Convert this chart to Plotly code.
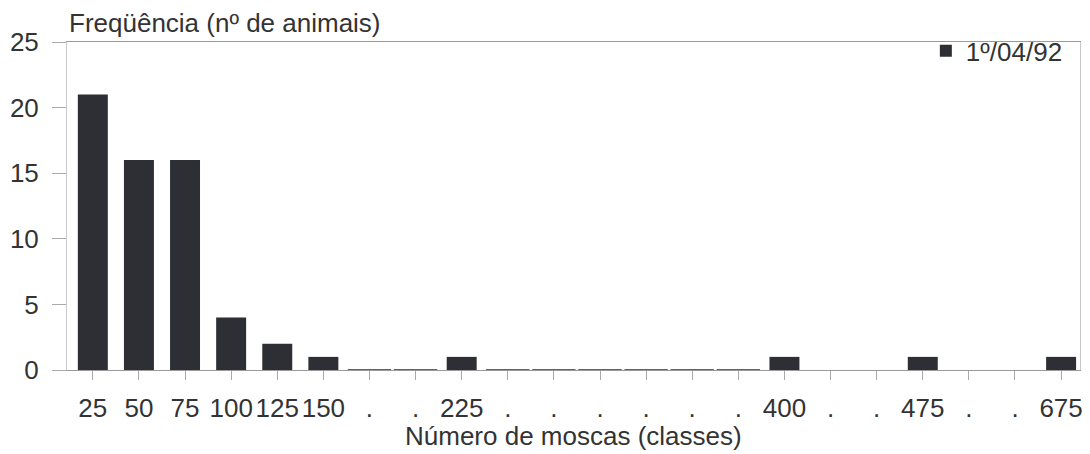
import plotly.graph_objects as go

# Fly-count classes (x) and number of animals in each class (y)
class_labels = ["25", "50", "75", "100", "125", "150", ".", ".", "225",
                ".", ".", ".", ".", ".", ".", "400", ".", ".", "475",
                ".", ".", "675"]
animal_counts = [21, 16, 16, 4, 2, 1, 0, 0, 1,
                 0, 0, 0, 0, 0, 0, 1, None, None, 1,
                 None, None, 1]
series_name = "1º/04/92"
y_ticks = [0, 5, 10, 15, 20, 25]

positions = list(range(len(class_labels)))
bar_color = "#2e2f35"
text_color = "#333333"
font_family = "Liberation Sans, Arial, sans-serif"
font_size = 26

fig = go.Figure()

fig.add_trace(go.Bar(
    x=positions,
    y=animal_counts,
    name=series_name,
    marker=dict(color=bar_color, line=dict(width=0)),
    showlegend=True,
))

# Empty classes are drawn as a flat stroke on the baseline
zero_x = [p for p, v in zip(positions, animal_counts) if v == 0]
zero_y = [v for v in animal_counts if v == 0]
fig.add_trace(go.Scatter(
    x=zero_x,
    y=zero_y,
    mode="markers",
    marker=dict(symbol="line-ew", size=31,
                line=dict(width=1.5, color=bar_color)),
    showlegend=False,
    hoverinfo="skip",
    cliponaxis=False,
))

fig.update_layout(
    width=1090,
    height=454,
    margin=dict(l=67, r=7, t=42, b=84),
    paper_bgcolor="white",
    plot_bgcolor="white",
    bargap=0.35,
    font=dict(family=font_family, size=font_size, color=text_color),
    legend=dict(
        x=0.988, xanchor="right", y=1.045, yanchor="top",
        bgcolor="rgba(0,0,0,0)",
        font=dict(size=font_size, color=text_color),
        itemwidth=30,
        tracegroupgap=0,
    ),
    xaxis=dict(
        range=[-0.56, 21.41],
        tickmode="array",
        tickvals=positions,
        ticktext=class_labels,
        ticks="outside",
        ticklen=9,
        tickcolor="#aaaaaa",
        ticklabelstandoff=6,
        showline=True,
        linecolor="#9a9a9a",
        linewidth=1,
        mirror=True,
        showgrid=False,
        zeroline=False,
        tickfont=dict(size=font_size, color=text_color),
    ),
    yaxis=dict(
        range=[0, 25],
        tickmode="array",
        tickvals=y_ticks,
        ticks="outside",
        ticklen=14,
        tickcolor="#aaaaaa",
        ticklabelstandoff=8,
        showline=True,
        linecolor="#c8c8c8",
        linewidth=1,
        mirror=True,
        showgrid=False,
        zeroline=False,
        tickfont=dict(size=font_size, color=text_color),
    ),
    annotations=[
        dict(text="Freqüência (nº de animais)", xref="paper", yref="paper",
             x=0, y=1, xanchor="left", yanchor="bottom", yshift=2,
             showarrow=False, font=dict(size=font_size, color=text_color)),
        dict(text="Número de moscas (classes)", xref="paper", yref="paper",
             x=0.5, y=0, xanchor="center", yanchor="top", yshift=-50,
             showarrow=False, borderpad=0,
             font=dict(size=font_size, color=text_color)),
    ],
)

fig.write_html("out.html")
